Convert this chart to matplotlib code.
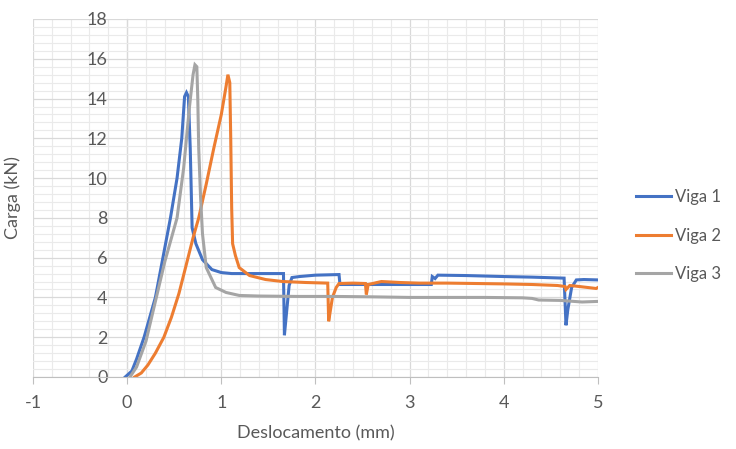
import numpy as np
import matplotlib.pyplot as plt
from matplotlib.ticker import MultipleLocator

# Viga 1
x1 = [-0.02, 0.05, 0.10, 0.18, 0.24, 0.30, 0.38, 0.46, 0.53, 0.58, 0.61, 0.63, 0.65,
      0.67, 0.69, 0.73, 0.80, 0.90, 1.00, 1.11, 1.40, 1.66, 1.67, 1.68, 1.72, 1.75,
      1.83, 2.00, 2.25, 2.26, 2.40, 2.80, 3.23, 3.24, 3.27, 3.30, 3.60, 4.00, 4.30,
      4.64, 4.66, 4.68, 4.72, 4.77, 4.85, 5.00]
y1 = [0.0, 0.3, 0.9, 2.0, 3.0, 4.0, 6.0, 8.0, 10.0, 12.0, 14.1, 14.3, 14.1,
      11.5, 7.5, 6.7, 5.9, 5.4, 5.25, 5.2, 5.2, 5.2, 2.1, 2.6, 4.6, 5.0,
      5.05, 5.12, 5.15, 4.65, 4.65, 4.65, 4.65, 5.05, 4.95, 5.12, 5.1, 5.05, 5.02,
      4.97, 2.6, 3.4, 4.5, 4.88, 4.9, 4.88]

# Viga 2
x2 = [0.08, 0.15, 0.22, 0.30, 0.39, 0.47, 0.55, 0.62, 0.70, 0.76, 0.84, 0.92, 1.00,
      1.05, 1.07, 1.09, 1.10, 1.11, 1.12, 1.15, 1.19, 1.30, 1.47, 1.65, 1.90, 2.13,
      2.14, 2.15, 2.18, 2.22, 2.25, 2.40, 2.53, 2.54, 2.56, 2.70, 2.90, 3.10, 3.40,
      3.70, 4.00, 4.30, 4.57, 4.65, 4.66, 4.70, 4.80, 4.98, 5.00]
y2 = [0.0, 0.2, 0.6, 1.2, 2.0, 3.0, 4.2, 5.5, 7.0, 8.0, 9.7, 11.5, 13.2,
      14.6, 15.2, 14.8, 12.0, 8.5, 6.7, 6.1, 5.5, 5.1, 4.9, 4.8, 4.75, 4.72,
      2.8, 3.1, 4.0, 4.5, 4.7, 4.72, 4.7, 4.15, 4.65, 4.8, 4.75, 4.72, 4.72,
      4.7, 4.68, 4.65, 4.6, 4.55, 4.4, 4.6, 4.55, 4.45, 4.5]

# Viga 3
x3 = [0.03, 0.10, 0.20, 0.31, 0.40, 0.53, 0.60, 0.66, 0.70, 0.72, 0.74, 0.75, 0.76,
      0.78, 0.80, 0.84, 0.90, 0.94, 1.05, 1.19, 1.40, 1.80, 2.20, 2.60, 3.00, 3.40,
      3.80, 4.20, 4.30, 4.37, 4.60, 4.83, 5.00]
y3 = [0.0, 0.5, 1.8, 4.0, 5.8, 8.0, 10.5, 13.5, 15.2, 15.7, 15.6, 14.0, 11.5,
      9.0, 7.2, 5.5, 4.9, 4.5, 4.25, 4.1, 4.07, 4.05, 4.05, 4.03, 4.0, 4.0,
      4.0, 3.98, 3.95, 3.87, 3.85, 3.77, 3.8]

names = ["Viga 1", "Viga 2", "Viga 3"]
colors = ["#4472C4", "#ED7D31", "#A5A5A5"]

plt.rcParams['font.family'] = ['Lato', 'DejaVu Sans']
plt.rcParams['axes.unicode_minus'] = False
txt = "#595959"

fig = plt.figure(figsize=(7.36, 4.49), dpi=100)
ax = fig.add_axes([0.0448, 0.1604, 0.7677, 0.7973])

for xs, ys, name, c in zip([x1, x2, x3], [y1, y2, y3], names, colors):
    ax.plot(xs, ys, color=c, lw=2.2, label=name, solid_joinstyle='miter')

ax.set_xlim(-1, 5)
ax.set_ylim(0, 18)
ax.xaxis.set_major_locator(MultipleLocator(1))
ax.xaxis.set_minor_locator(MultipleLocator(0.2))
ax.yaxis.set_major_locator(MultipleLocator(2))
ax.yaxis.set_minor_locator(MultipleLocator(0.4))
ax.grid(which='major', color='#D9D9D9', lw=0.9)
ax.grid(which='minor', color='#EAEAEA', lw=0.8)
ax.set_axisbelow(True)

for s in ['top', 'right']:
    ax.spines[s].set_visible(False)
ax.spines['left'].set_position(('data', 0))
ax.spines['left'].set_color('#BFBFBF')
ax.spines['bottom'].set_color('#BFBFBF')
ax.spines['left'].set_zorder(0.5)

ax.tick_params(axis='x', which='major', length=5, color='#BFBFBF', labelsize=13,
               labelcolor=txt, pad=8)
ax.tick_params(axis='y', which='major', length=0, labelsize=13, labelcolor=txt, pad=14)
ax.tick_params(which='minor', length=0)

ax.set_xlabel("Deslocamento (mm)", fontsize=13, color=txt, labelpad=10)
ax.set_ylabel("Carga (kN)", fontsize=13, color=txt)
ax.yaxis.set_label_coords(-0.022, 0.5)

ax.legend(loc='center left', bbox_to_anchor=(1.067, 0.395), frameon=False, fontsize=12,
          labelcolor=txt, handlelength=2.1, handletextpad=0.25, labelspacing=1.35,
          borderaxespad=0, borderpad=0, handleheight=0.7)

fig.savefig("out.png", dpi=100)
